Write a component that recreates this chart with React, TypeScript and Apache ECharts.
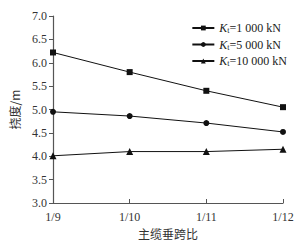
import React, { useEffect, useRef } from "react";
import * as echarts from "echarts";

const categories = ["1/9", "1/10", "1/11", "1/12"];
const seriesNames = ["Kt=1 000 kN", "Kt=5 000 kN", "Kt=10 000 kN"];
const legendLabels = ["{i|K}{s|t}{n|=1 000 kN}", "{i|K}{s|t}{n|=5 000 kN}", "{i|K}{s|t}{n|=10 000 kN}"];
const k1000 = [6.22, 5.8, 5.4, 5.05];
const k5000 = [4.95, 4.86, 4.71, 4.52];
const k10000 = [4.01, 4.1, 4.1, 4.15];
const symbols = ["rect", "circle", "triangle"];
const yTicks = { min: 3, max: 7, interval: 0.5 };

const FONT = "'Liberation Serif', 'Noto Sans CJK SC', serif";

export default function App() {
  const ref = useRef<HTMLDivElement>(null);
  useEffect(() => {
    if (!ref.current) return;
    const chart = echarts.init(ref.current, undefined, { renderer: "svg" });
    const data = [k1000, k5000, k10000];
    chart.setOption({
      animation: false,
      textStyle: { fontFamily: FONT },
      grid: { left: 53, right: 21, top: 16, bottom: 43 },
      legend: {
        orient: "vertical",
        right: 12,
        top: 17,
        itemWidth: 22,
        itemHeight: 6,
        itemGap: 4,
        data: seriesNames,
        formatter: (name: string) => legendLabels[seriesNames.indexOf(name)],
        textStyle: {
          fontFamily: FONT,
          fontSize: 12,
          color: "#222",
          rich: {
            i: { fontFamily: FONT, fontSize: 12, fontStyle: "italic", color: "#222" },
            s: { fontFamily: FONT, fontSize: 8, color: "#222", padding: [5, 0, 0, 0] },
            n: { fontFamily: FONT, fontSize: 12, color: "#222" },
          },
        },
      },
      xAxis: {
        type: "category",
        data: categories,
        boundaryGap: false,
        name: "主缆垂跨比",
        nameLocation: "middle",
        nameGap: 24,
        nameTextStyle: { fontFamily: "'Noto Sans CJK SC'", fontSize: 12, color: "#333" },
        axisLine: { lineStyle: { color: "#555", width: 1.2 } },
        axisTick: { inside: true, length: 4, lineStyle: { color: "#555" } },
        axisLabel: { fontFamily: FONT, fontSize: 12, color: "#333", margin: 8 },
        splitLine: { show: false },
      },
      yAxis: {
        type: "value",
        min: yTicks.min,
        max: yTicks.max,
        interval: yTicks.interval,
        name: "挠度/m",
        nameLocation: "middle",
        nameGap: 33,
        nameRotate: 90,
        nameTextStyle: { fontFamily: "'Noto Sans CJK SC'", fontSize: 12, color: "#333" },
        axisLine: { show: true, lineStyle: { color: "#555", width: 1.2 } },
        axisTick: { show: true, inside: false, length: 4, lineStyle: { color: "#555" } },
        axisLabel: {
          fontFamily: FONT,
          fontSize: 12,
          color: "#333",
          margin: 6,
          formatter: (v: number) => v.toFixed(1),
        },
        splitLine: { show: false },
      },
      series: data.map((d, i) => ({
        name: seriesNames[i],
        type: "line",
        data: d,
        symbol: symbols[i],
        symbolSize: i === 2 ? 7 : 6,
        showAllSymbol: true,
        lineStyle: { color: "#111", width: 1 },
        itemStyle: { color: "#111" },
      })),
    });
    return () => chart.dispose();
  }, []);
  return <div ref={ref} style={{ width: 304, height: 246, position: "absolute", left: 0, top: 0 }} />;
}
